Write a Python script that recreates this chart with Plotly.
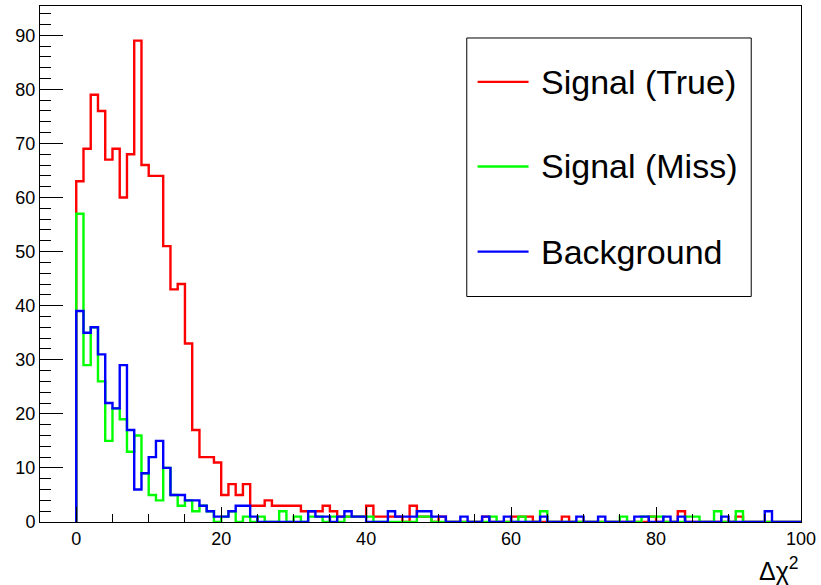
import numpy as np
import plotly.graph_objects as go

# Histogram binning: 100 unit-width bins over [0, 100)
BIN_LO, BIN_HI, N_BINS = 0, 100, 100

signal_true = [
    63, 69, 79, 76, 67, 69, 60, 68, 89, 66,
    64, 64, 51, 43, 44, 33, 17, 12, 12, 11,
    5, 7, 5, 7, 3, 3, 4, 3, 3, 3,
    3, 2, 2, 2, 3, 2, 1, 1, 1, 1,
    3, 1, 1, 1, 1, 0, 3, 1, 1, 0,
    1, 0, 0, 0, 0, 0, 1, 0, 0, 0,
    1, 1, 1, 0, 0, 0, 0, 1, 0, 0,
    0, 0, 0, 0, 0, 0, 0, 0, 0, 1,
    0, 0, 0, 2, 0, 0, 0, 0, 0, 0,
    0, 1, 0, 0, 0, 0, 0, 0, 0, 0,
]

signal_miss = [
    57, 29, 36, 26, 15, 21, 19, 13, 16, 9,
    5, 4, 10, 5, 3, 4, 2, 3, 2, 0,
    1, 2, 0, 1, 0, 1, 0, 0, 2, 0,
    1, 0, 1, 1, 0, 1, 0, 1, 1, 1,
    1, 0, 0, 0, 0, 0, 0, 1, 1, 0,
    0, 0, 0, 0, 0, 0, 0, 1, 0, 0,
    0, 1, 0, 0, 2, 0, 0, 0, 0, 0,
    0, 0, 0, 0, 0, 1, 0, 0, 1, 1,
    1, 0, 0, 0, 1, 1, 0, 0, 2, 0,
    0, 2, 0, 0, 0, 0, 0, 0, 0, 0,
]

background = [
    39, 35, 36, 31, 22, 21, 29, 17, 6, 9,
    12, 15, 10, 5, 5, 4, 4, 3, 2, 1,
    1, 2, 3, 3, 1, 0, 0, 0, 0, 0,
    0, 0, 2, 1, 1, 0, 1, 2, 1, 1,
    0, 0, 0, 2, 1, 1, 1, 2, 2, 1,
    1, 0, 0, 1, 0, 0, 1, 0, 0, 1,
    0, 0, 0, 0, 1, 0, 0, 0, 0, 1,
    0, 0, 1, 0, 0, 0, 0, 1, 1, 0,
    0, 1, 0, 1, 0, 0, 0, 0, 0, 1,
    0, 0, 0, 0, 0, 2, 0, 0, 0, 0,
]

series_names = ["Signal (True)", "Signal (Miss)", "Background"]
series_colors = ["#ff0000", "#00ff00", "#0000ff"]
series_values = [signal_true, signal_miss, background]

x_tick_vals = [0, 20, 40, 60, 80, 100]
y_tick_vals = [0, 10, 20, 30, 40, 50, 60, 70, 80, 90]

edges = np.linspace(BIN_LO, BIN_HI, N_BINS + 1)


def step_outline(vals):
    """Histogram outline: rise from the baseline, step across bins, drop back."""
    xs = [edges[0]] + list(edges[:-1]) + [edges[-1], edges[-1]]
    ys = [0] + list(vals) + [vals[-1], 0]
    return xs, ys


FONT = "Liberation Sans, Arial, Helvetica, sans-serif"

fig = go.Figure()
for name, color, vals in zip(series_names, series_colors, series_values):
    xs, ys = step_outline(vals)
    fig.add_trace(go.Scatter(
        x=xs, y=ys, mode="lines", name=name,
        line=dict(color=color, width=2.4, shape="hv"),
        showlegend=False, hoverinfo="skip",
    ))

# Boxed legend in the upper right of the frame
L_X0, L_X1, L_Y0, L_Y1 = 0.5608, 0.9346, 0.437, 0.938
fig.add_shape(type="rect", xref="paper", yref="paper",
              x0=L_X0, x1=L_X1, y0=L_Y0, y1=L_Y1,
              line=dict(color="black", width=1), fillcolor="white", layer="above")
entry_y = [0.853, 0.689, 0.524]
for name, color, ey in zip(series_names, series_colors, entry_y):
    fig.add_shape(type="line", xref="paper", yref="paper",
                  x0=0.575, x1=0.642, y0=ey, y1=ey,
                  line=dict(color=color, width=2.4), layer="above")
    fig.add_annotation(text=name, xref="paper", yref="paper",
                       x=0.656, y=ey, xanchor="left", yanchor="middle",
                       showarrow=False, font=dict(family=FONT, size=34, color="black"))

# Axis title placed at the right end of the x axis
fig.add_annotation(text="Δχ<sup>2</sup>", xref="paper", yref="paper",
                   x=1.0, y=-0.056, xanchor="right", yanchor="top",
                   showarrow=False, font=dict(family=FONT, size=25, color="black"))

fig.update_layout(
    width=821, height=585,
    margin=dict(l=40, r=16, t=5, b=63, pad=0),
    paper_bgcolor="white", plot_bgcolor="white",
    font=dict(family=FONT, color="black"),
    xaxis=dict(
        range=[-5, 100], tickvals=x_tick_vals,
        ticks="inside", ticklen=15, tickwidth=1, tickcolor="black",
        minor=dict(dtick=5, tick0=0, ticks="inside", ticklen=8, tickcolor="black"),
        showline=True, linecolor="black", linewidth=1, mirror=True,
        showgrid=False, zeroline=False,
        tickfont=dict(family=FONT, size=18, color="black"),
    ),
    yaxis=dict(
        range=[0, 95.4], tickvals=y_tick_vals,
        ticks="inside", ticklen=23, tickwidth=1, tickcolor="black",
        minor=dict(dtick=2, tick0=0, ticks="inside", ticklen=11, tickcolor="black"),
        showline=True, linecolor="black", linewidth=1, mirror=True,
        showgrid=False, zeroline=False,
        tickfont=dict(family=FONT, size=18, color="black"),
    ),
)

fig.write_html("out.html")
